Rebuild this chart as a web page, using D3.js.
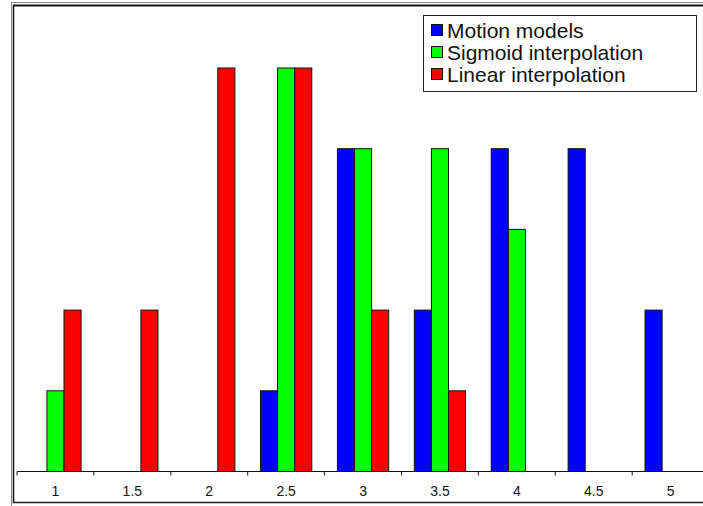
<!DOCTYPE html>
<html><head><meta charset="utf-8">
<script src="https://cdn.jsdelivr.net/npm/d3@7"></script>
<style>body{margin:0;background:#fff}svg{display:block}</style>
</head><body>
<script>
const categories = ["1","1.5","2","2.5","3","3.5","4","4.5","5"];
const seriesNames = ["Motion models","Sigmoid interpolation","Linear interpolation"];
const seriesColors = ["#0000ff","#00ff00","#ff0000"];
const motionModels = [0,0,0,1,4,2,4,4,2];
const sigmoidInterp = [1,0,0,5,4,4,3,0,0];
const linearInterp = [2,2,5,5,2,1,0,0,0];
const seriesValues = [motionModels, sigmoidInterp, linearInterp];

const W = 703, H = 506;
const svg = d3.select("body").append("svg").attr("width", W).attr("height", H);

// frame
svg.append("line").attr("x1",11).attr("x2",W).attr("y1",2.5).attr("y2",2.5).attr("stroke","#888").attr("stroke-width",1);
svg.append("line").attr("x1",11.5).attr("x2",11.5).attr("y1",2).attr("y2",H).attr("stroke","#888").attr("stroke-width",1);
svg.append("line").attr("x1",13).attr("x2",W).attr("y1",5.5).attr("y2",5.5).attr("stroke","#111").attr("stroke-width",2);
svg.append("line").attr("x1",13.5).attr("x2",13.5).attr("y1",5).attr("y2",503).attr("stroke","#111").attr("stroke-width",1.5);
svg.append("line").attr("x1",13).attr("x2",W).attr("y1",502.5).attr("y2",502.5).attr("stroke","#222").attr("stroke-width",1.5);

const x0 = d3.scaleBand().domain(categories).range([17, 17 + 9*76.9]).paddingInner(0).paddingOuter(0);
const bw = x0.bandwidth();
const x1 = d3.scaleBand().domain(seriesNames).range([bw/6, bw*5/6]);
const y = d3.scaleLinear().domain([0,5]).range([471.5, 68]);

const g = svg.append("g");
seriesNames.forEach((s, si) => {
  g.selectAll(null).data(categories.map((c,i)=>({c, v: seriesValues[si][i]})).filter(d=>d.v>0))
    .join("rect")
    .attr("x", d => x0(d.c) + x1(s))
    .attr("y", d => y(d.v))
    .attr("width", x1.bandwidth())
    .attr("height", d => y(0) - y(d.v))
    .attr("fill", seriesColors[si])
    .attr("stroke", "#111").attr("stroke-width", 1);
});

// axis
const axis = d3.axisBottom(x0).tickSize(0).tickPadding(15);
const ax = svg.append("g").attr("transform", `translate(0,${y(0)})`).call(axis);
ax.select(".domain").attr("stroke","#111").attr("d", `M${x0.range()[0]},0H${x0.range()[1]}`);
ax.selectAll("text").attr("font-family","Liberation Sans, Arial, sans-serif").attr("font-size",14).attr("fill","#111");
const bounds = categories.map(c => x0(c)).concat([x0.range()[1]]);
ax.selectAll(".bt").data(bounds).join("line").attr("class","bt")
  .attr("x1",d=>d).attr("x2",d=>d).attr("y1",0).attr("y2",4).attr("stroke","#111");

// legend
const lg = svg.append("g");
lg.append("rect").attr("x",423.5).attr("y",15.5).attr("width",273).attr("height",76).attr("fill","#fff").attr("stroke","#222");
seriesNames.forEach((s,i)=>{
  const yy = 30 + i*22;
  lg.append("rect").attr("x",431.5).attr("y",yy-5.5).attr("width",11).attr("height",11).attr("fill",seriesColors[i]).attr("stroke","#111");
  lg.append("text").attr("x",447).attr("y",yy+7.5).text(s)
    .attr("font-family","Liberation Sans, Arial, sans-serif").attr("font-size",21).attr("fill","#111");
});
</script>
</body></html>
